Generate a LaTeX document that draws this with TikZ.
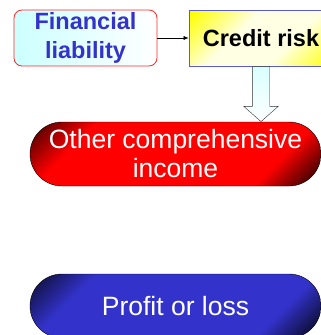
\documentclass[tikz,border=0pt]{standalone}
\usepackage{fontspec}
\setmainfont{Liberation Sans}
\usetikzlibrary{shapes.misc,shapes.arrows,arrows.meta}

\definecolor{boxblue}{RGB}{51,51,204}
\definecolor{framered}{RGB}{255,40,40}
\definecolor{frameblue}{RGB}{90,90,210}
\definecolor{paleyellow}{RGB}{255,255,228}

% Dark corners on the result boxes
\pgfdeclarehorizontalshading{ocishade}{100bp}{color(0bp)=(black); color(17bp)=(black!65!red); color(28bp)=(red); color(72bp)=(red); color(84bp)=(black!85!red); color(100bp)=(black)}
\pgfdeclarehorizontalshading{plshade}{100bp}{color(0bp)=(black); color(17bp)=(black!65!boxblue); color(28bp)=(boxblue); color(72bp)=(boxblue); color(84bp)=(black!85!boxblue); color(100bp)=(black)}
\pgfdeclarehorizontalshading{riskshade}{100bp}{color(0bp)=(yellow); color(16bp)=(yellow); color(40bp)=(paleyellow); color(62bp)=(paleyellow); color(86bp)=(yellow); color(100bp)=(yellow)}

\tikzset{
  itembox/.style={draw, line width=0.8pt, minimum width=143pt, minimum height=56pt, inner sep=0pt, align=center, font=\bfseries\fontsize{23.5}{29}\selectfont},
  pill/.style={rounded rectangle, draw=black, thin, minimum width=291pt, minimum height=64pt, inner sep=0pt, align=center, text=white, font=\fontsize{26.5}{29}\selectfont, shading angle=-45},
  blockarrow/.style={single arrow, draw=black!80, thin, top color=cyan!15, bottom color=white, shape border rotate=270, minimum width=34pt, minimum height=55pt, single arrow head extend=8.5pt, single arrow tip angle=97, inner sep=8.5pt}
}

\begin{document}
\begin{tikzpicture}[x=1pt,y=-1pt]
% Fix the picture size
\useasboundingbox (0,0) rectangle (321,335);
\clip (0,0) rectangle (321,335);

% Top row
\node[itembox, rounded corners=8pt, draw=framered, left color=cyan!20, right color=white, text=boxblue] (fin) at (85.5,38) {Financial\\liability};
\node[itembox, minimum width=144pt, draw=frameblue, shading=riskshade, shading angle=-45] (credit) at (261,38) {Credit risk};
\draw[-{Latex[length=5pt,width=4pt]}] (fin) -- (credit);

% Block arrow down
\node[blockarrow, anchor=tail] (down) at (credit.south) {};

% Result boxes
\node[pill, shading=ocishade] (oci) at (175.5,154) {Other comprehensive\\income};
\node[pill, shading=plshade] (pl) at (175.5,306) {Profit or loss};
\end{tikzpicture}
\end{document}
